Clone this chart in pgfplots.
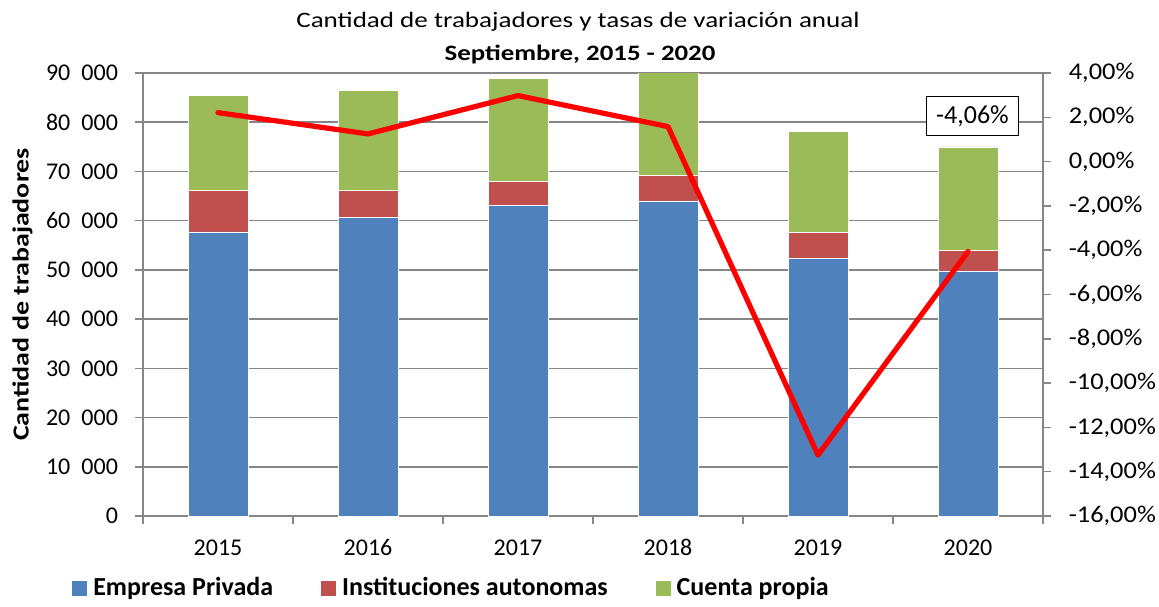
\documentclass[border=0pt]{standalone}
\usepackage{fontspec}
\setmainfont{Carlito}
\usepackage{pgfplots}
\pgfplotsset{compat=1.18}
\definecolor{cblue}{HTML}{4F81BD}
\definecolor{cred}{HTML}{C0504D}
\definecolor{cgreen}{HTML}{9BBB59}
\definecolor{axgray}{HTML}{868686}
\newcommand{\ts}{\hspace{0.46em}}
\begin{document}
\begin{tikzpicture}[font=\fontsize{12}{14}\selectfont]
\begin{axis}[name=ax, scale only axis, width=450pt, height=221.5pt,
  xmin=-0.5, xmax=5.5, ymin=0, ymax=90000,
  ybar stacked, bar width=30pt,
  axis x line*=bottom, axis y line*=left,
  axis line style={draw=axgray, line width=0.75pt},
  tick style={draw=axgray, line width=0.75pt},
  tick align=outside, major tick length=4pt,
  xtick={-0.5,0.5,1.5,2.5,3.5,4.5,5.5}, xticklabels={},
  extra x ticks={0,1,2,3,4,5},
  extra x tick labels={2015,2016,2017,2018,2019,2020},
  extra x tick style={major tick length=0pt, grid=none},
  xticklabel style={yshift=-8pt, text height=8pt, text depth=0pt},
  ytick={0,10000,...,90000},
  yticklabels={0,10\ts000,20\ts000,30\ts000,40\ts000,50\ts000,60\ts000,70\ts000,80\ts000,90\ts000},
  yticklabel style={xshift=-5pt},
  scaled y ticks=false,
  ymajorgrids=true,
  major grid style={draw=axgray, line width=0.75pt},
  ylabel={\bfseries Cantidad de trabajadores},
  ylabel style={at={(axis description cs:-0.134,0.5)}, anchor=center, font=\fontsize{11.5}{14}\selectfont, xscale=1.215},
  legend columns=3,
  legend cell align=left,
  legend style={draw=none, fill=none, at={(axis description cs:-0.079,-0.163)}, anchor=west,
    font=\fontsize{13}{15}\selectfont\bfseries, inner sep=0pt,
    /tikz/every even column/.append style={column sep=22pt},
    /tikz/every odd column/.append style={column sep=1pt}},
  legend image code/.code={\fill[#1,draw=none] (0pt,-3.75pt) rectangle (7.5pt,3.75pt);},
  clip=true,
]
\addplot[fill=cblue, draw=white, line width=0.3pt] coordinates {(0,57700) (1,60600) (2,63050) (3,64000) (4,52400) (5,49800)};
\addplot[fill=cred, draw=white, line width=0.3pt] coordinates {(0,8500) (1,5600) (2,5000) (3,5150) (4,5200) (5,4200)};
\addplot[fill=cgreen, draw=white, line width=0.3pt] coordinates {(0,19200) (1,20200) (2,20850) (3,21800) (4,20600) (5,21000)};
\legend{Empresa Privada, Instituciones autonomas, Cuenta propia}
\end{axis}
\begin{axis}[scale only axis, width=450pt, height=221.5pt,
  xmin=-0.5, xmax=5.5, ymin=-16, ymax=4,
  axis y line*=right, hide x axis,
  axis line style={draw=axgray, line width=0.75pt},
  tick style={draw=axgray, line width=0.75pt},
  tick align=outside, major tick length=4pt,
  ytick={-16,-14,...,4},
  yticklabels={{-16,00\%},{-14,00\%},{-12,00\%},{-10,00\%},{-8,00\%},{-6,00\%},{-4,00\%},{-2,00\%},{0,00\%},{2,00\%},{4,00\%}},
  yticklabel style={xshift=5pt, xscale=1.1},
]
\addplot[color=red, line width=2.6pt, line cap=round, line join=round] coordinates {(0,2.21) (1,1.25) (2,2.98) (3,1.58) (4,-13.25) (5,-4.06)};
\node[draw=black, line width=0.6pt, fill=white, inner xsep=5pt, inner ysep=4.5pt, font=\fontsize{13}{15}\selectfont] at (axis cs:5.03,2.05) {-4,06\%};
\end{axis}
\node[font=\fontsize{11}{13}\selectfont, xscale=1.23] at ([xshift=-7.5pt,yshift=25.5pt]ax.north) {Cantidad de trabajadores y tasas de variación anual};
\node[font=\fontsize{11}{13}\selectfont\bfseries, xscale=1.22] at ([xshift=-6.5pt,yshift=9.5pt]ax.north) {Septiembre, 2015 - 2020};
\pgfresetboundingbox
\path[use as bounding box] (ax.south west) ++(-71.5pt,-45pt) rectangle ++(579.5pt,303pt);
\end{tikzpicture}
\end{document}
